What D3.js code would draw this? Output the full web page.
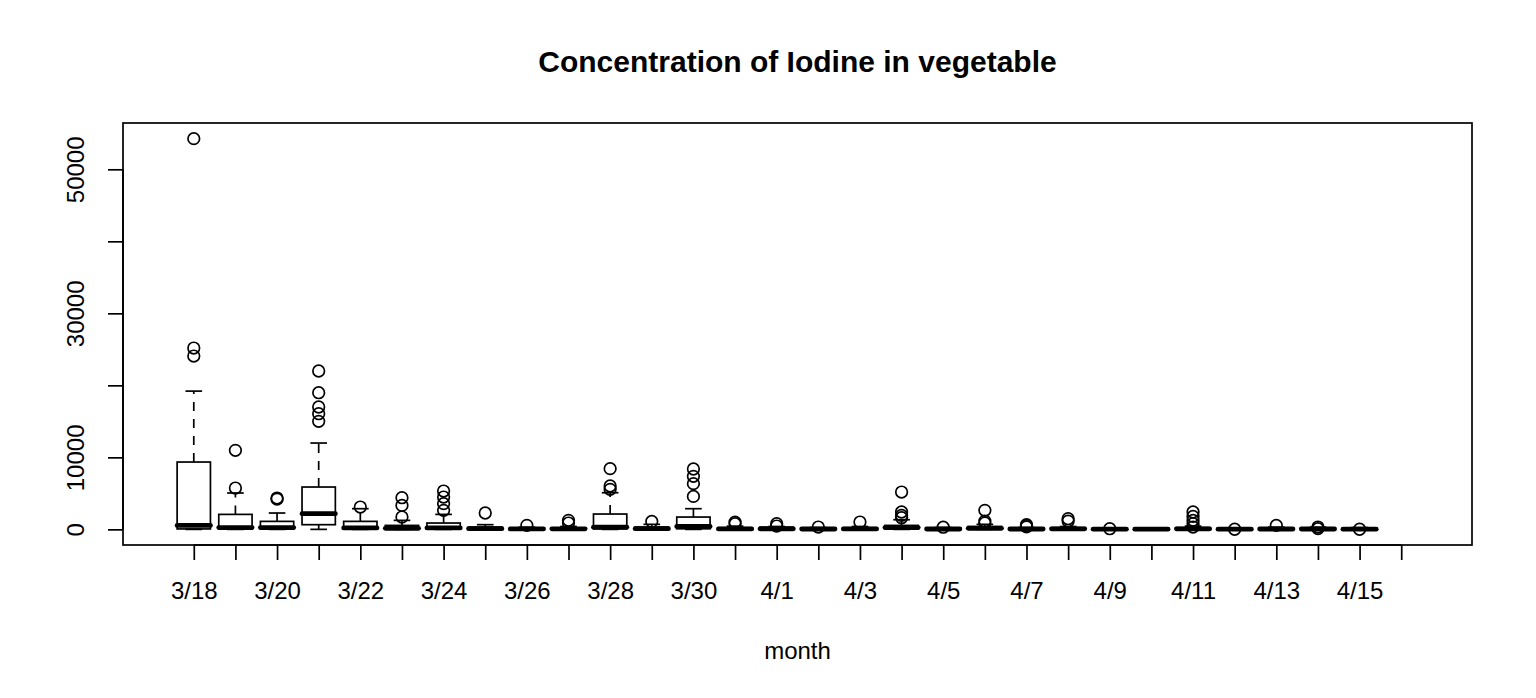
<!DOCTYPE html>
<html>
<head>
    <meta charset="utf-8" />
    <title>Concentration of Iodine in vegetable</title>
    <style>
        html, body {
            margin: 0;
            padding: 0;
            background-color: #fff;
        }
        svg text {
            font-family: 'Liberation Sans', Arial, sans-serif;
            fill: #000;
        }
    </style>
</head>
<body>
    <div class="canvas"></div>
    <script src="https://cdn.jsdelivr.net/npm/d3@7/dist/d3.min.js"></script>
    <script>
        // one box per day
        var months = ["3/18","3/19","3/20","3/21","3/22","3/23","3/24","3/25","3/26","3/27",
                      "3/28","3/29","3/30","3/31","4/1","4/2","4/3","4/4","4/5","4/6",
                      "4/7","4/8","4/9","4/10","4/11","4/12","4/13","4/14","4/15","4/16"];
        var xTickLabels = ["3/18","","3/20","","3/22","","3/24","","3/26","",
                           "3/28","","3/30","","4/1","","4/3","","4/5","",
                           "4/7","","4/9","","4/11","","4/13","","4/15",""];

        var whiskerLow  = [0,0,0,0,0,0,0,0,0,0, 0,0,0,0,0,0,0,0,0,0, 0,0,0,0,0,0,0,0,0,null];
        var q1          = [60,50,40,650,40,30,40,20,10,10, 60,20,80,10,10,10,10,80,10,40, 10,20,5,5,20,5,10,10,5,null];
        var median      = [550,250,250,2180,200,150,200,100,60,70, 300,100,400,60,80,50,60,250,50,150, 50,80,30,30,80,30,50,50,30,null];
        var q3          = [9350,2080,1110,5880,1110,550,880,320,140,180, 2130,320,1710,230,320,200,230,550,200,410, 200,250,120,120,250,150,200,200,150,null];
        var whiskerHigh = [19200,5050,2270,11990,2870,1250,2080,650,300,400, 5090,700,2870,450,400,250,400,1340,250,700, 250,400,200,200,450,200,300,300,250,null];
        var outliers = [
            [24070, 25180, 54260],
            [5740, 10970],
            [4200, 4350],
            [15000, 16060, 16990, 18980, 21990],
            [3100],
            [1710, 3330, 4400],
            [2640, 3570, 4490, 5320],
            [2270],
            [560],
            [880, 1250],
            [5560, 6020, 8430],
            [1110],
            [4580, 6350, 7360, 8380],
            [790, 1010],
            [460, 790],
            [320],
            [1020],
            [1620, 1940, 2410, 5180],
            [300],
            [880, 1150, 2640],
            [350, 500, 650],
            [1150, 1480],
            [90],
            [],
            [320, 790, 1250, 1800, 2410],
            [20],
            [550],
            [100, 320],
            [20],
            []
        ];
        var yTicks = [0, 10000, 20000, 30000, 40000, 50000];
        var yTickLabels = ["0", "10000", "", "30000", "", "50000"];

        var width = 1536, height = 698;
        var plotLeft = 123, plotRight = 1472, plotTop = 123, plotBottom = 545;
        var lw = 1.7;

        var n = months.length;
        var x = d3.scaleLinear()
            .domain([0.5 - 0.04 * n, n + 0.5 + 0.04 * n])
            .range([plotLeft, plotRight]);

        var allVals = [];
        months.forEach(function(m, i) {
            if (whiskerLow[i] !== null) {
                allVals.push(whiskerLow[i], whiskerHigh[i]);
            }
            outliers[i].forEach(function(v) { allVals.push(v); });
        });
        var yMin = d3.min(allVals), yMax = d3.max(allVals);
        var ext = 0.04 * (yMax - yMin);
        var y = d3.scaleLinear()
            .domain([yMin - ext, yMax + ext])
            .range([plotBottom, plotTop]);

        var svg = d3.select(".canvas")
            .append("svg")
            .attr("width", width)
            .attr("height", height);

        // plot frame
        svg.append("rect")
            .attr("x", plotLeft)
            .attr("y", plotTop)
            .attr("width", plotRight - plotLeft)
            .attr("height", plotBottom - plotTop)
            .attr("fill", "none")
            .attr("stroke", "#000")
            .attr("stroke-width", lw);

        // x axis
        var xAxis = d3.axisBottom(x)
            .tickValues(d3.range(1, n + 1))
            .tickSize(15)
            .tickPadding(22)
            .tickFormat(function(d) { return xTickLabels[d - 1]; });
        var gx = svg.append("g")
            .attr("transform", "translate(0," + plotBottom + ")")
            .call(xAxis);
        gx.select(".domain").remove();
        gx.append("line")
            .attr("x1", x(1)).attr("x2", x(n))
            .attr("y1", 0).attr("y2", 0)
            .attr("stroke", "#000").attr("stroke-width", lw);
        gx.selectAll(".tick line").attr("stroke-width", lw);
        gx.selectAll(".tick text")
            .style("font-size", "24px")
            .style("font-family", "'Liberation Sans', Arial, sans-serif")
            .attr("fill", "#000");

        // y axis
        var yAxis = d3.axisLeft(y)
            .tickValues(yTicks)
            .tickSize(15)
            .tickFormat(function(d, i) { return yTickLabels[i]; });
        var gy = svg.append("g")
            .attr("transform", "translate(" + plotLeft + ",0)")
            .call(yAxis);
        gy.select(".domain").remove();
        gy.append("line")
            .attr("x1", 0).attr("x2", 0)
            .attr("y1", y(yTicks[0])).attr("y2", y(yTicks[yTicks.length - 1]))
            .attr("stroke", "#000").attr("stroke-width", lw);
        gy.selectAll(".tick line").attr("stroke-width", lw);
        gy.selectAll(".tick text")
            .style("font-size", "24px")
            .style("font-family", "'Liberation Sans', Arial, sans-serif")
            .attr("fill", "#000")
            .attr("x", null)
            .attr("dy", null)
            .attr("text-anchor", "middle")
            .attr("transform", "translate(-39,0) rotate(-90)");

        // boxes
        var boxW = x(1.4) - x(0.6);
        var pane = svg.append("g");

        months.forEach(function(m, i) {
            if (whiskerLow[i] === null) return;
            var cx = x(i + 1);
            var g = pane.append("g");

            // whiskers
            g.append("line")
                .attr("x1", cx).attr("x2", cx)
                .attr("y1", y(q3[i])).attr("y2", y(whiskerHigh[i]))
                .attr("stroke", "#000").attr("stroke-width", lw)
                .attr("stroke-dasharray", "9,8");
            g.append("line")
                .attr("x1", cx).attr("x2", cx)
                .attr("y1", y(q1[i])).attr("y2", y(whiskerLow[i]))
                .attr("stroke", "#000").attr("stroke-width", lw)
                .attr("stroke-dasharray", "9,8");

            // staples
            [whiskerHigh[i], whiskerLow[i]].forEach(function(v) {
                g.append("line")
                    .attr("x1", cx - boxW / 4).attr("x2", cx + boxW / 4)
                    .attr("y1", y(v)).attr("y2", y(v))
                    .attr("stroke", "#000").attr("stroke-width", lw);
            });

            // box
            g.append("rect")
                .attr("x", cx - boxW / 2)
                .attr("y", y(q3[i]))
                .attr("width", boxW)
                .attr("height", Math.max(0, y(q1[i]) - y(q3[i])))
                .attr("fill", "none")
                .attr("stroke", "#000")
                .attr("stroke-width", lw);

            // median
            g.append("line")
                .attr("x1", cx - boxW / 2).attr("x2", cx + boxW / 2)
                .attr("y1", y(median[i])).attr("y2", y(median[i]))
                .attr("stroke", "#000").attr("stroke-width", 4.8)
                .attr("stroke-linecap", "round");

            // outliers
            g.selectAll("circle")
                .data(outliers[i])
                .enter()
                .append("circle")
                .attr("cx", cx)
                .attr("cy", function(d) { return y(d); })
                .attr("r", 5.8)
                .attr("fill", "none")
                .attr("stroke", "#000")
                .attr("stroke-width", lw);
        });

        // titles
        svg.append("text")
            .attr("x", (plotLeft + plotRight) / 2)
            .attr("y", 72)
            .attr("text-anchor", "middle")
            .style("font-size", "30px")
            .style("font-weight", "bold")
            .text("Concentration of Iodine in vegetable");

        svg.append("text")
            .attr("x", (plotLeft + plotRight) / 2)
            .attr("y", 659)
            .attr("text-anchor", "middle")
            .style("font-size", "24px")
            .text("month");
    </script>
</body>
</html>
